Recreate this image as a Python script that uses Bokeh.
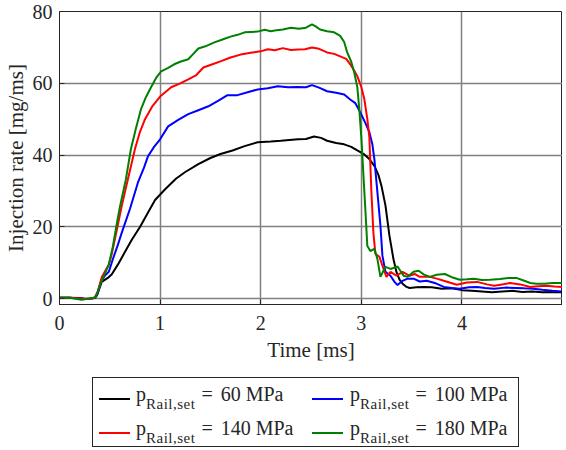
from bokeh.plotting import figure
from bokeh.models import Div, FixedTicker, Range1d, Label
from bokeh.layouts import column
from bokeh.embed import file_html
from bokeh.resources import INLINE

# ---- data ----
t_60 = [0, 0.1, 0.2, 0.25, 0.3, 0.35, 0.37, 0.42, 0.48, 0.52, 0.58, 0.65, 0.72, 0.8, 0.88, 0.95,
        1.05, 1.16, 1.25, 1.38, 1.5, 1.6, 1.72, 1.84, 1.97, 2.1, 2.2, 2.37, 2.45, 2.53, 2.6, 2.66,
        2.75, 2.83, 2.9, 2.96, 3.03, 3.08, 3.13, 3.17, 3.2, 3.24, 3.28, 3.32, 3.35, 3.38, 3.41, 3.45,
        3.48, 3.55, 3.62, 3.7, 3.8, 3.9, 4.0, 4.1, 4.2, 4.3, 4.4, 4.5, 4.6, 4.7, 4.8, 4.9, 5.0]
rate_60 = [0.3, 0.3, 0.2, 0.0, 0.0, 0.2, 0.8, 4.7, 5.8, 6.8, 9.5, 13.0, 16.5, 20.0, 24.0, 27.5,
           30.5, 33.5, 35.3, 37.5, 39.2, 40.3, 41.3, 42.5, 43.6, 43.8, 44.0, 44.4, 44.5, 45.2, 44.8, 44.0,
           43.4, 43.0, 42.3, 41.3, 40.2, 38.9, 37.0, 34.5, 31.5, 26.0, 17.5, 11.0, 7.4, 5.3, 4.2, 3.3,
           3.0, 3.2, 3.3, 3.2, 2.8, 2.9, 2.4, 2.2, 2.0, 1.8, 2.0, 2.2, 1.9, 2.0, 1.8, 1.9, 1.8]

t_100 = [0, 0.1, 0.2, 0.25, 0.3, 0.35, 0.38, 0.41, 0.45, 0.49, 0.53, 0.58, 0.62, 0.7, 0.78, 0.84,
         0.88, 0.94, 1.0, 1.08, 1.18, 1.28, 1.38, 1.48, 1.58, 1.67, 1.77, 1.87, 1.97, 2.07, 2.17, 2.27,
         2.37, 2.45, 2.51, 2.58, 2.66, 2.75, 2.83, 2.89, 2.94, 2.99, 3.04, 3.08, 3.11, 3.13, 3.16, 3.19,
         3.21, 3.24, 3.29, 3.33, 3.36, 3.41, 3.46, 3.52, 3.58, 3.65, 3.74, 3.82, 3.9, 3.98, 4.07, 4.15,
         4.23, 4.32, 4.43, 4.54, 4.62, 4.71, 4.8, 4.9, 5.0]
rate_100 = [0.3, 0.3, 0.1, -0.1, 0.0, 0.3, 1.5, 4.5, 6.4, 7.5, 11.0, 15.0, 18.5, 25.0, 32.4, 36.5,
            39.7, 42.3, 44.4, 48.0, 49.8, 51.4, 52.5, 53.6, 55.2, 56.7, 56.7, 57.5, 58.3, 58.6, 59.2, 58.9,
            59.0, 58.9, 59.5, 58.8, 57.8, 57.4, 56.9, 55.5, 54.5, 51.9, 49.0, 46.4, 43.0, 38.9, 29.7, 20.4,
            12.0, 7.5, 6.4, 4.7, 3.8, 5.0, 5.6, 5.6, 4.8, 5.0, 4.3, 3.3, 3.0, 2.8, 3.2, 3.3,
            3.0, 2.8, 3.1, 3.0, 2.9, 2.8, 2.5, 2.2, 2.0]

t_140 = [0, 0.1, 0.2, 0.25, 0.3, 0.35, 0.38, 0.42, 0.45, 0.49, 0.52, 0.55, 0.62, 0.68, 0.75, 0.8,
         0.85, 0.92, 1.0, 1.11, 1.2, 1.28, 1.36, 1.43, 1.52, 1.6, 1.7, 1.8, 1.9, 2.0, 2.07, 2.14,
         2.22, 2.3, 2.37, 2.44, 2.51, 2.58, 2.66, 2.73, 2.79, 2.85, 2.89, 2.93, 2.96, 3.0, 3.03, 3.06,
         3.08, 3.1, 3.12, 3.14, 3.18, 3.21, 3.25, 3.29, 3.35, 3.41, 3.48, 3.53, 3.58, 3.68, 3.75, 3.82,
         3.95, 4.05, 4.15, 4.25, 4.32, 4.4, 4.48, 4.58, 4.68, 4.76, 4.84, 4.92, 5.0]
rate_140 = [0.3, 0.3, 0.1, -0.1, 0.0, 0.3, 2.0, 6.0, 7.5, 9.5, 12.5, 16.5, 26.0, 33.3, 41.7, 46.5,
            50.0, 53.5, 56.3, 58.9, 60.0, 61.1, 62.3, 64.4, 65.3, 66.1, 67.2, 68.0, 68.5, 68.9, 69.5, 69.2,
            69.8, 69.3, 69.4, 69.5, 70.0, 69.6, 68.6, 68.2, 67.5, 66.8, 65.3, 63.5, 62.0, 59.0, 55.6, 50.0,
            45.0, 30.0, 18.5, 12.5, 11.7, 9.2, 6.1, 7.5, 6.4, 7.5, 6.4, 6.9, 6.1, 6.1, 5.6, 5.0,
            3.9, 4.5, 4.7, 4.0, 3.6, 4.0, 4.4, 4.0, 3.3, 3.5, 3.6, 3.4, 3.3]

t_180 = [0, 0.1, 0.15, 0.22, 0.28, 0.33, 0.36, 0.4, 0.45, 0.49, 0.53, 0.57, 0.6, 0.66, 0.71, 0.76,
         0.81, 0.86, 0.91, 0.96, 1.01, 1.08, 1.14, 1.2, 1.28, 1.33, 1.38, 1.45, 1.54, 1.62, 1.7, 1.77,
         1.84, 1.9, 1.97, 2.04, 2.1, 2.14, 2.22, 2.3, 2.38, 2.45, 2.51, 2.55, 2.59, 2.66, 2.73, 2.79,
         2.83, 2.86, 2.9, 2.93, 2.96, 2.98, 3.0, 3.02, 3.04, 3.06, 3.09, 3.13, 3.16, 3.19, 3.24, 3.29,
         3.36, 3.42, 3.46, 3.52, 3.57, 3.62, 3.68, 3.75, 3.83, 3.9, 3.98, 4.05, 4.12, 4.2, 4.28, 4.38,
         4.46, 4.54, 4.62, 4.68, 4.74, 4.82, 4.9, 5.0]
rate_180 = [0.3, 0.3, 0.1, -0.3, 0.0, 0.2, 0.5, 3.6, 6.9, 9.5, 14.5, 21.0, 25.5, 33.3, 41.7, 47.5,
            52.8, 56.2, 58.9, 61.5, 63.3, 64.3, 65.3, 66.0, 66.7, 68.2, 69.7, 70.3, 71.4, 72.2, 73.0, 73.5,
            74.2, 74.3, 74.4, 74.9, 74.5, 74.7, 75.0, 75.5, 75.2, 75.5, 76.4, 75.8, 75.0, 74.5, 74.2, 73.2,
            71.5, 68.6, 66.0, 63.0, 59.0, 52.8, 45.0, 35.0, 25.0, 14.7, 13.3, 13.9, 11.1, 6.1, 8.9, 8.3,
            9.0, 6.4, 6.1, 7.5, 7.8, 6.8, 6.1, 6.7, 6.9, 6.0, 5.3, 5.4, 5.6, 5.2, 5.3, 5.5,
            5.8, 5.8, 5.0, 4.4, 4.2, 4.2, 4.4, 4.4]

pressures = ["60", "100", "140", "180"]
x_ticks = [0, 1, 2, 3, 4, 5]
y_ticks = [0, 20, 40, 60, 80]

series = [(t_60, rate_60, "#000000"), (t_100, rate_100, "#0000ff"),
          (t_140, rate_140, "#ff0000"), (t_180, rate_180, "#008000")]

FONT = "Liberation Serif"
TXT = "#262626"

p = figure(width=562, height=367, x_range=Range1d(0, 5), y_range=Range1d(-1.6, 80),
           output_backend="svg", toolbar_location=None,
           min_border_left=59, min_border_right=0, min_border_top=11, min_border_bottom=63)

for tt, vv, c in series:
    p.line(tt, vv, line_color=c, line_width=2)

p.xaxis.ticker = FixedTicker(ticks=x_ticks)
p.yaxis.ticker = FixedTicker(ticks=y_ticks)
for ax in (p.xaxis[0], p.yaxis[0]):
    ax.axis_line_color = "#262626"
    ax.major_tick_in = 5
    ax.major_tick_out = 0
    ax.minor_tick_in = 0
    ax.minor_tick_out = 0
    ax.major_tick_line_color = "#262626"
    ax.major_label_text_font = FONT
    ax.major_label_text_font_size = "20px"
    ax.major_label_text_color = TXT
    ax.axis_label_text_font = FONT
    ax.axis_label_text_font_size = "21px"
    ax.axis_label_text_font_style = "normal"
    ax.axis_label_text_color = TXT

# the last x tick label sits on the page edge (cut off, as in the original); draw it as a label
last_tick = x_ticks[-1]
p.xaxis.major_label_overrides = {last_tick: ""}
p.add_layout(Label(x=last_tick, y=-1.6, y_offset=-11, x_offset=-2, text=str(last_tick),
                   text_align="center", text_baseline="top", text_font=FONT,
                   text_font_size="20px", text_color=TXT))

p.xaxis.axis_label = "Time [ms]"
p.yaxis.axis_label = "Injection rate [mg/ms]"
p.xaxis.major_label_standoff = 11
p.xaxis.axis_label_standoff = 5
p.yaxis.major_label_standoff = 7
p.yaxis.axis_label_standoff = 2

p.grid.grid_line_color = "#808080"
p.grid.grid_line_width = 1.5
p.outline_line_color = "#262626"
p.outline_line_width = 1
p.background_fill_color = "white"
p.border_fill_color = "white"

# ---- legend (HTML so the subscript is real text) ----
def item(left_line, left_text, top_line, top_text, color, pr):
    return (
        f'<div style="position:absolute;left:{left_line}px;top:{top_line}px;width:31px;height:2px;background:{color};"></div>'
        f'<div style="position:absolute;left:{left_text}px;top:{top_text}px;line-height:22px;white-space:nowrap;">'
        f'p<span style="font-size:15px;letter-spacing:0.5px;vertical-align:-8px;">Rail,set</span>'
        f'<span style="margin:0 8px 0 6px;">=</span>{pr} MPa</div>'
    )

cols = [(6, 43), (219, 257)]
rows = [(20, 5), (54, 39)]
items = ""
for k, (pr, (_, _, c)) in enumerate(zip(pressures, series)):
    r = rows[k // 2]
    cl = cols[k % 2]
    items += item(cl[0], cl[1], r[0], r[1], c, pr)

html = (
    f'<div style="position:relative;box-sizing:border-box;width:427px;height:70px;margin-left:92px;'
    f'margin-top:10px;border:1px solid #262626;background:white;font-family:\'{FONT}\';'
    f'font-size:20px;color:{TXT};">{items}</div>'
)
legend = Div(text=html, width=562, height=80, margin=(0, 0, 0, 0))

layout = column(p, legend, spacing=0)
open("out.html", "w").write(file_html(layout, INLINE))
